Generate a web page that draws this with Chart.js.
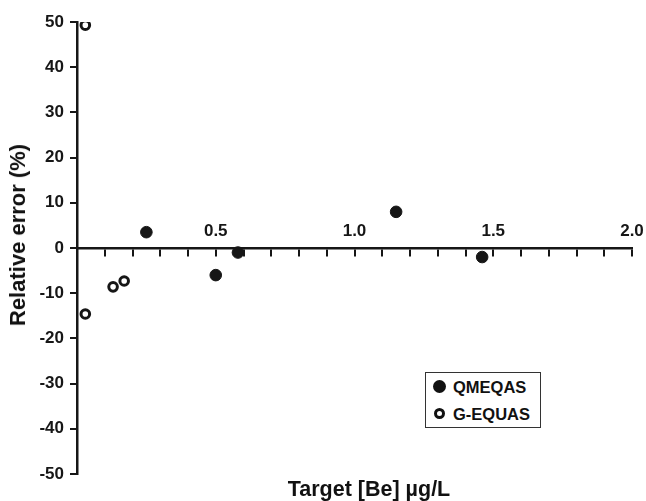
<!DOCTYPE html>
<html>
<head>
<meta charset="utf-8">
<script src="https://cdn.jsdelivr.net/npm/chart.js@4.4.1/dist/chart.umd.min.js"></script>
<style>
  html, body { margin: 0; padding: 0; background: #fff; }
  #wrap { position: relative; width: 646px; height: 501px; font-family: 'Liberation Sans', Arial, sans-serif; color: #111; }
  #xtitle { position: absolute; left: 369px; top: 477px; transform: translateX(-50%); font-weight: bold; font-size: 21.5px; white-space: nowrap; }
  #ytitle { position: absolute; left: 18px; top: 235px; transform: translate(-50%, -50%) rotate(-90deg); font-weight: bold; font-size: 22px; white-space: nowrap; }
  #legend { position: absolute; left: 425px; top: 372px; width: 114px; height: 54px; border: 1px solid #333; background: #fff; font-weight: bold; font-size: 16.5px; }
  .row { position: absolute; left: 0; height: 20px; line-height: 20px; }
  .sym { position: absolute; left: 7px; top: 3px; box-sizing: border-box; width: 13px; height: 13px; border-radius: 50%; }
  .lab { position: absolute; left: 27px; top: 0; white-space: nowrap; }
</style>
</head>
<body>
<div id="wrap">
  <canvas id="chart" width="646" height="501"></canvas>
  <div id="ytitle">Relative error (%)</div>
  <div id="xtitle">Target [Be] µg/L</div>
  <div id="legend">
    <div class="row" style="top:4px"><span class="sym" style="background:#111"></span><span class="lab">QMEQAS</span></div>
    <div class="row" style="top:31px"><span class="sym" style="border:3px solid #111;width:11px;height:11px;left:8px;top:4px"></span><span class="lab">G-EQUAS</span></div>
  </div>
</div>
<script>
  // values
  const qmeqasX = [0.25, 0.50, 0.58, 1.15, 1.46];
  const qmeqasY = [3.5, -6.0, -1.0, 8.0, -2.0];
  const gequasX = [0.03, 0.03, 0.13, 0.17];
  const gequasY = [49.3, -14.6, -8.6, -7.3];
  const xTicks = [0, 0.1, 0.2, 0.3, 0.4, 0.5, 0.6, 0.7, 0.8, 0.9, 1.0,
                  1.1, 1.2, 1.3, 1.4, 1.5, 1.6, 1.7, 1.8, 1.9, 2.0];
  const xLabels = [0.5, 1.0, 1.5, 2.0];
  const yTicks = [-50, -40, -30, -20, -10, 0, 10, 20, 30, 40, 50];

  const ink = '#161616';
  const fontFamily = "'Liberation Sans', Arial, sans-serif";

  const toPoints = (xs, ys) => xs.map((x, i) => ({ x: x, y: ys[i] }));

  new Chart(document.getElementById('chart'), {
    type: 'scatter',
    data: {
      datasets: [
        {
          label: 'QMEQAS',
          data: toPoints(qmeqasX, qmeqasY),
          pointStyle: 'circle',
          pointRadius: 5.8,
          pointBorderWidth: 1,
          backgroundColor: ink,
          borderColor: ink
        },
        {
          label: 'G-EQUAS',
          data: toPoints(gequasX, gequasY),
          pointStyle: 'circle',
          pointRadius: 4.3,
          pointBorderWidth: 3,
          backgroundColor: '#fff',
          borderColor: ink
        }
      ]
    },
    options: {
      responsive: false,
      animation: false,
      layout: { padding: { top: 22, right: 14, bottom: 27, left: 0 } },
      plugins: {
        legend: { display: false },
        tooltip: { enabled: false }
      },
      scales: {
        x: {
          type: 'linear',
          min: 0,
          max: 2.0,
          position: { y: 0 },
          afterBuildTicks: (scale) => { scale.ticks = xTicks.map(v => ({ value: v })); },
          border: { display: true, color: ink, width: 2.5 },
          grid: { drawOnChartArea: false, drawTicks: true, tickLength: 7, color: ink, lineWidth: 2 },
          ticks: {
            autoSkip: false,
            maxRotation: 0,
            padding: -34,
            color: ink,
            font: { family: fontFamily, size: 17, weight: 'bold' },
            callback: (v) => {
              const hit = xLabels.find(l => Math.abs(l - v) < 1e-6);
              return hit !== undefined ? hit.toFixed(1) : '';
            }
          }
        },
        y: {
          min: -50,
          max: 50,
          afterFit: (scale) => { scale.width = 77; },
          afterBuildTicks: (scale) => { scale.ticks = yTicks.map(v => ({ value: v })); },
          border: { display: true, color: ink, width: 2.5 },
          grid: { drawOnChartArea: false, drawTicks: true, tickLength: 7, color: ink, lineWidth: 2 },
          ticks: {
            padding: 6,
            color: ink,
            font: { family: fontFamily, size: 17, weight: 'bold' }
          }
        }
      }
    }
  });
</script>
</body>
</html>
